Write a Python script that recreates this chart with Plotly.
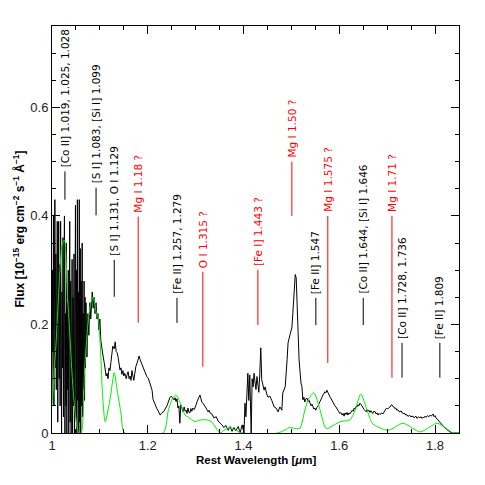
import plotly.graph_objects as go

# ---------------- observed spectrum (black) ----------------
obs_wl = [
    1.000, 1.001, 1.002, 1.003, 1.004, 1.005, 1.006, 1.007, 1.008, 1.009,
    1.010, 1.011, 1.012, 1.013, 1.014, 1.015, 1.016, 1.017, 1.018, 1.019,
    1.020, 1.021, 1.022, 1.023, 1.024, 1.025, 1.026, 1.027, 1.028, 1.029,
    1.030, 1.031, 1.032, 1.033, 1.034, 1.035, 1.036, 1.037, 1.038, 1.039,
    1.040, 1.041, 1.042, 1.043, 1.044, 1.045, 1.046, 1.047, 1.048, 1.049,
    1.050, 1.051, 1.052, 1.053, 1.054, 1.055, 1.056, 1.057, 1.058, 1.059,
    1.060, 1.061, 1.062, 1.063, 1.064, 1.065, 1.066, 1.067, 1.068, 1.069,
    1.070, 1.071, 1.073, 1.075, 1.077,
    1.079, 1.081, 1.084, 1.086, 1.088, 1.090, 1.092, 1.094, 1.096, 1.098,
    1.100, 1.102, 1.104, 1.107, 1.109, 1.111, 1.113, 1.115, 1.117, 1.119,
    1.121, 1.123, 1.125, 1.127, 1.130, 1.132, 1.134, 1.136, 1.138, 1.140,
    1.142, 1.144, 1.146, 1.148, 1.150, 1.152, 1.155, 1.157, 1.159, 1.161,
    1.163, 1.165, 1.167, 1.169, 1.171, 1.173, 1.175, 1.178, 1.180, 1.182,
    1.184, 1.186, 1.188, 1.190, 1.192, 1.194, 1.196, 1.198, 1.201, 1.203,
    1.205, 1.207, 1.209, 1.211, 1.213, 1.215, 1.217, 1.219, 1.221, 1.224,
    1.226, 1.228, 1.230, 1.232, 1.234, 1.236, 1.238, 1.240, 1.242, 1.244,
    1.246, 1.249, 1.251, 1.253, 1.255, 1.257, 1.259, 1.261, 1.263, 1.265,
    1.267, 1.269, 1.271, 1.274, 1.276, 1.278, 1.280, 1.282, 1.284, 1.286,
    1.288, 1.290, 1.292, 1.294, 1.297, 1.299, 1.301, 1.303, 1.305, 1.307,
    1.309, 1.311, 1.313, 1.315, 1.318, 1.320, 1.322, 1.324, 1.326, 1.328,
    1.330, 1.334, 1.338, 1.343, 1.347, 1.351, 1.355, 1.359, 1.363, 1.368,
    1.372, 1.376, 1.380, 1.384, 1.389, 1.393, 1.397, 1.401, 1.403, 1.405,
    1.407, 1.409, 1.411, 1.413, 1.416, 1.418, 1.420, 1.422, 1.424, 1.426,
    1.428, 1.430, 1.432, 1.434, 1.436, 1.438, 1.440, 1.443, 1.445, 1.447,
    1.449, 1.451, 1.455, 1.459, 1.464, 1.468, 1.472, 1.476, 1.480, 1.482,
    1.487, 1.491, 1.493, 1.497, 1.499, 1.501, 1.503, 1.505, 1.508, 1.510,
    1.512, 1.514, 1.516, 1.518, 1.520, 1.522, 1.523, 1.524, 1.526, 1.528,
    1.530, 1.533, 1.535, 1.537, 1.539, 1.541, 1.543, 1.545, 1.547, 1.549,
    1.551, 1.553, 1.556, 1.558, 1.560, 1.562, 1.564, 1.566, 1.568, 1.570,
    1.572, 1.574, 1.576, 1.578, 1.581, 1.583, 1.585, 1.587, 1.589, 1.591,
    1.593, 1.595, 1.597, 1.599, 1.601, 1.603, 1.606, 1.608, 1.610, 1.612,
    1.614, 1.616, 1.618, 1.620, 1.622, 1.625, 1.627, 1.629, 1.631, 1.633,
    1.635, 1.637, 1.639, 1.641, 1.643, 1.645, 1.648, 1.650, 1.652, 1.654,
    1.656, 1.658, 1.660, 1.662, 1.664, 1.666, 1.668, 1.670, 1.672, 1.675,
    1.677, 1.679, 1.681, 1.683, 1.685, 1.687, 1.689, 1.691, 1.693, 1.695,
    1.697, 1.699, 1.701, 1.704, 1.706, 1.708, 1.710, 1.712, 1.714, 1.716,
    1.718, 1.720, 1.722, 1.724, 1.727, 1.729, 1.731, 1.733, 1.735, 1.737,
    1.739, 1.741, 1.743, 1.745, 1.747, 1.749, 1.751, 1.754, 1.756, 1.758,
    1.760, 1.762, 1.764, 1.766, 1.768, 1.771, 1.773, 1.775, 1.777, 1.779,
    1.781, 1.783, 1.785, 1.787, 1.790, 1.792, 1.794, 1.796, 1.798, 1.800,
    1.802, 1.804, 1.806, 1.808, 1.811, 1.813, 1.815, 1.818, 1.821, 1.824,
    1.827, 1.831, 1.836, 1.850,
]
obs_flux = [
    0.06, 0.30, 0.15, 0.40, 0.05, 0.25, 0.43, 0.12, 0.33, 0.08,
    0.28, 0.39, 0.02, 0.20, 0.39, 0.10, 0.31, 0.05, 0.39, 0.18,
    0.00, 0.26, 0.12, 0.36, 0.03, 0.30, 0.40, 0.00, 0.22, 0.05,
    0.35, 0.00, 0.24, 0.08, 0.30, 0.00, 0.20, 0.39, 0.02, 0.28,
    0.00, 0.18, 0.32, 0.00, 0.25, 0.05, 0.33, 0.00, 0.21, 0.42,
    0.03, 0.30, 0.00, 0.43, 0.06, 0.26, 0.00, 0.43, 0.02, 0.34,
    0.00, 0.28, 0.05, 0.35, 0.03, 0.22, 0.08, 0.28, 0.06, 0.25,
    0.12, 0.24, 0.14, 0.22, 0.18,
    0.24, 0.21, 0.26, 0.23, 0.25, 0.22, 0.24, 0.21, 0.22, 0.19,
    0.21, 0.17, 0.155, 0.14, 0.13, 0.12, 0.105, 0.11, 0.10, 0.12,
    0.115, 0.13, 0.145, 0.16, 0.155, 0.168, 0.15, 0.148, 0.14, 0.125,
    0.116, 0.12, 0.108, 0.115, 0.105, 0.11, 0.10, 0.108, 0.113, 0.10,
    0.105, 0.097, 0.115, 0.105, 0.097, 0.11, 0.122, 0.13, 0.138, 0.142,
    0.135, 0.13, 0.126, 0.12, 0.115, 0.112, 0.108, 0.104, 0.101, 0.095,
    0.089, 0.085, 0.079, 0.062, 0.057, 0.052, 0.048, 0.045, 0.042, 0.038,
    0.033, 0.036, 0.037, 0.039, 0.040, 0.044, 0.046, 0.050, 0.055, 0.060,
    0.065, 0.068, 0.066, 0.062, 0.061, 0.065, 0.058, 0.063, 0.046, 0.050,
    0.018, 0.052, 0.045, 0.039, 0.048, 0.040, 0.042, 0.036, 0.046, 0.038,
    0.037, 0.045, 0.040, 0.046, 0.043, 0.050, 0.052, 0.058, 0.061, 0.066,
    0.070, 0.062, 0.057, 0.055, 0.052, 0.048, 0.046, 0.042, 0.039, 0.042,
    0.037, 0.035, 0.028, 0.030, 0.022, 0.018, 0.015, 0.010, 0.014, 0.005,
    0.012, 0.003, 0.010, 0.004, 0.012, 0.000, 0.015, 0.000, 0.055, 0.030,
    0.079, 0.110, 0.060, 0.107, 0.000, 0.100, 0.085, 0.110, 0.094, 0.080,
    0.104, 0.090, 0.075, 0.110, 0.157, 0.098, 0.090, 0.079, 0.085, 0.074,
    0.070, 0.066, 0.068, 0.060, 0.048, 0.046, 0.039, 0.048, 0.042, 0.074,
    0.085, 0.135, 0.166, 0.181, 0.190, 0.194, 0.221, 0.258, 0.292, 0.286,
    0.246, 0.185, 0.135, 0.110, 0.092, 0.085, 0.070, 0.061, 0.066, 0.057,
    0.063, 0.064, 0.058, 0.060, 0.055, 0.050, 0.053, 0.048, 0.044, 0.046,
    0.042, 0.047, 0.050, 0.055, 0.058, 0.062, 0.066, 0.070, 0.073, 0.076,
    0.074, 0.079, 0.075, 0.070, 0.066, 0.063, 0.059, 0.057, 0.053, 0.050,
    0.048, 0.044, 0.042, 0.039, 0.036, 0.038, 0.033, 0.036, 0.031, 0.037,
    0.034, 0.038, 0.033, 0.037, 0.035, 0.039, 0.042, 0.040, 0.046, 0.044,
    0.049, 0.048, 0.052, 0.050, 0.055, 0.053, 0.050, 0.046, 0.043, 0.041,
    0.039, 0.043, 0.040, 0.042, 0.038, 0.041, 0.039, 0.036, 0.040, 0.039,
    0.035, 0.037, 0.033, 0.036, 0.034, 0.035, 0.037, 0.035, 0.039, 0.041,
    0.044, 0.046, 0.044, 0.047, 0.048, 0.051, 0.052, 0.049, 0.048, 0.045,
    0.046, 0.042, 0.043, 0.040, 0.039, 0.041, 0.037, 0.037, 0.035, 0.036,
    0.033, 0.034, 0.031, 0.031, 0.033, 0.030, 0.030, 0.031, 0.028, 0.029,
    0.031, 0.027, 0.028, 0.030, 0.028, 0.030, 0.027, 0.029, 0.028, 0.031,
    0.029, 0.030, 0.032, 0.030, 0.033, 0.031, 0.034, 0.035, 0.030, 0.032,
    0.028, 0.026, 0.023, 0.020, 0.018, 0.016, 0.015, 0.012, 0.009, 0.007,
    0.004, 0.002, 0.000, 0.000,
]

# ---------------- model spectrum (green) ----------------
model_wl = [
    1.000, 1.008, 1.017, 1.021, 1.026, 1.032, 1.037, 1.044, 1.051, 1.056,
    1.061, 1.068, 1.075, 1.081, 1.086, 1.093, 1.096, 1.101, 1.105, 1.111,
    1.121, 1.130, 1.136, 1.144, 1.152, 1.232, 1.243, 1.252, 1.259, 1.267,
    1.278, 1.285, 1.299, 1.309, 1.324, 1.334, 1.351, 1.361, 1.372, 1.382,
    1.397, 1.472, 1.487, 1.497, 1.510, 1.518, 1.528, 1.535, 1.547, 1.560,
    1.570, 1.574, 1.602, 1.622, 1.633, 1.645, 1.658, 1.670, 1.702, 1.733,
    1.769, 1.804, 1.821, 1.838, 1.850,
]
model_flux = [
    0.050, 0.159, 0.306, 0.347, 0.356, 0.258, 0.185, 0.080, 0.018, 0.000,
    0.000, 0.116, 0.200, 0.240, 0.251, 0.220, 0.215, 0.159, 0.080, 0.021,
    0.061, 0.111, 0.079, 0.037, 0.000, 0.000, 0.042, 0.064, 0.070, 0.057,
    0.033, 0.029, 0.021, 0.024, 0.024, 0.020, 0.000, 0.006, 0.010, 0.006,
    0.000, 0.000, 0.006, 0.010, 0.008, 0.009, 0.042, 0.061, 0.074, 0.042,
    0.011, 0.008, 0.021, 0.024, 0.042, 0.072, 0.042, 0.017, 0.005, 0.018,
    0.002, 0.018, 0.010, 0.000, 0.000,
]

# ---------------- line identifications ----------------
line_wl = [1.027, 1.092, 1.130, 1.180, 1.261, 1.315, 1.430, 1.501,
           1.551, 1.576, 1.650, 1.710, 1.731, 1.810]
line_top = [0.482, 0.452, 0.319, 0.399, 0.249, 0.297, 0.301, 0.500,
            0.249, 0.400, 0.249, 0.400, 0.166, 0.166]
line_bottom = [0.430, 0.401, 0.251, 0.203, 0.203, 0.122, 0.199, 0.400,
               0.199, 0.129, 0.199, 0.102, 0.102, 0.102]
line_text = [
    "[Co II] 1.019, 1.025, 1.028",
    "[S I] 1.083, [Si I] 1.099",
    "[S I] 1.131, O I 1.129",
    "Mg I 1.18 ?",
    "[Fe II] 1.257, 1.279",
    "O I 1.315 ?",
    "[Fe I] 1.443 ?",
    "Mg I 1.50 ?",
    "[Fe II] 1.547",
    "Mg I 1.575 ?",
    "[Co II] 1.644, [Si I] 1.646",
    "Mg I 1.71 ?",
    "[Co II] 1.728, 1.736",
    "[Fe II] 1.809",
]
line_tentative = [False, False, False, True, False, True, True, True,
                  False, True, False, True, False, False]

x_ticks = [1.0, 1.2, 1.4, 1.6, 1.8]
x_ticklabels = ["1", "1.2", "1.4", "1.6", "1.8"]
y_ticks = [0.0, 0.2, 0.4, 0.6]
y_ticklabels = ["0", "0.2", "0.4", "0.6"]

LABEL_FONT = "DejaVu Sans, Liberation Sans, Arial"
TITLE_FONT = "Liberation Sans, Arial"

fig = go.Figure()
fig.add_trace(go.Scatter(x=obs_wl, y=obs_flux, mode="lines",
                         line=dict(color="black", width=1), hoverinfo="skip"))
fig.add_trace(go.Scatter(x=model_wl, y=model_flux, mode="lines",
                         line=dict(color="#00ee00", width=1, shape="spline", smoothing=0.7),
                         hoverinfo="skip"))

for wl, top, bot, txt, tent in zip(line_wl, line_top, line_bottom, line_text, line_tentative):
    col = "#ff0000" if tent else "black"
    fig.add_shape(type="line", x0=wl, x1=wl, y0=bot, y1=top, xref="x", yref="y",
                  line=dict(color=col, width=1))
    fig.add_annotation(x=wl, y=top, xref="x", yref="y", text=txt, textangle=-90,
                       showarrow=False, xanchor="center", yanchor="bottom", yshift=2,
                       font=dict(family=LABEL_FONT, size=10.5, color=col))

fig.add_annotation(x=0.5, y=-27 / 407, xref="paper", yref="paper",
                   xanchor="center", yanchor="middle",
                   text="<b>Rest Wavelength [<i>μ</i>m]</b>", showarrow=False,
                   font=dict(family=TITLE_FONT, size=11.5, color="black"))
fig.add_annotation(x=-34 / 407, y=0.5, xref="paper", yref="paper", textangle=-90,
                   xanchor="center", yanchor="middle",
                   text="<b>Flux [10<sup>−15</sup> erg cm<sup>−2</sup> s<sup>−1</sup> Å<sup>−1</sup>]</b>",
                   showarrow=False,
                   font=dict(family=TITLE_FONT, size=12, color="black"))

axis_common = dict(showgrid=False, zeroline=False, showline=True, linecolor="black",
                   linewidth=1, mirror="allticks", ticks="inside", ticklen=8,
                   tickcolor="black",
                   tickfont=dict(family="Liberation Sans, Arial", size=13, color="#222222"))
fig.update_xaxes(range=[1.0, 1.85], tickvals=x_ticks, ticktext=x_ticklabels,
                 minor=dict(ticks="inside", ticklen=4, dtick=0.05, tick0=1.0, tickcolor="black"),
                 **axis_common)
fig.update_yaxes(range=[0.0, 0.75], tickvals=y_ticks, ticktext=y_ticklabels,
                 minor=dict(ticks="inside", ticklen=4, dtick=0.05, tick0=0.0, tickcolor="black"),
                 **axis_common)
fig.update_layout(width=477, height=477, margin=dict(l=44, r=26, t=18, b=52),
                  plot_bgcolor="white", paper_bgcolor="white", showlegend=False)
fig.write_html("out.html")
